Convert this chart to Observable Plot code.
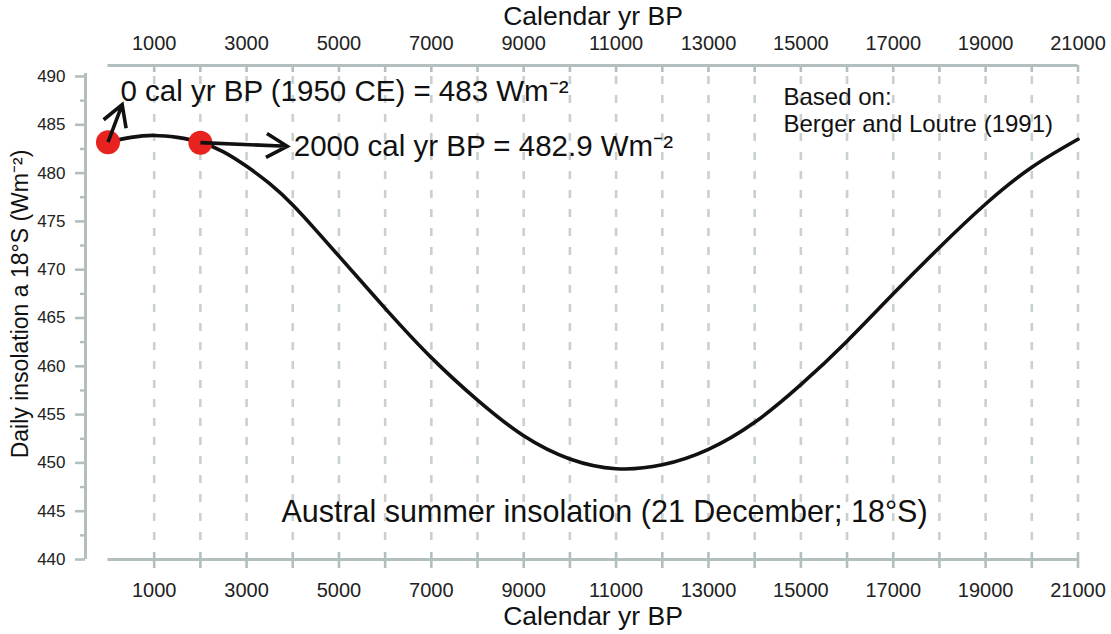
<!DOCTYPE html>
<html>
<head>
<meta charset="utf-8">
<script src="https://cdn.jsdelivr.net/npm/d3@7"></script>
<script src="https://cdn.jsdelivr.net/npm/@observablehq/plot@0.6"></script>
<style>
  html, body { margin: 0; padding: 0; background: #fff; }
  #chart svg { display: block; }
</style>
</head>
<body>
<div id="chart"></div>
<script>
// ---- data ----
const years = [0, 500, 1000, 1500, 2000, 2500, 3000, 3500, 4000, 4500, 5000, 6000, 7000, 8000, 9000, 10000,
  11000, 12000, 13000, 14000, 15000, 16000, 17000, 18000, 19000, 20000, 21000];
const insolation = [483.2, 483.7, 483.9, 483.7, 483.2, 482.2, 480.7, 478.9, 476.7, 474.1, 471.4, 466.0, 460.9, 456.5, 452.8, 450.4,
  449.4, 449.8, 451.4, 454.2, 458.1, 462.6, 467.5, 472.3, 476.8, 480.6, 483.5];

const pointYears = [0, 2000];
const pointValues = [483.2, 483.15];

const xTicks = [1000, 2000, 3000, 4000, 5000, 6000, 7000, 8000, 9000, 10000, 11000,
  12000, 13000, 14000, 15000, 16000, 17000, 18000, 19000, 20000, 21000];
const xTickLabels = [1000, 3000, 5000, 7000, 9000, 11000, 13000, 15000, 17000, 19000, 21000];
const yTicks = [440, 445, 450, 455, 460, 465, 470, 475, 480, 485, 490];
const yMinorTicks = [442.5, 447.5, 452.5, 457.5, 462.5, 467.5, 472.5, 477.5, 482.5, 487.5];

const xTitle = "Calendar yr BP";
const yTitle = "Daily insolation a 18°S (Wm⁻²)";
const note0 = "0 cal yr BP (1950 CE) = 483 Wm⁻²";
const note2000 = "2000 cal yr BP = 482.9 Wm⁻²";
const sourceNote = "Based on:\nBerger and Loutre (1991)";
const seasonNote = "Austral summer insolation (21 December; 18°S)";

// arrow targets (data units), one per highlighted point
const arrowTipYears = [307, 3880];
const arrowTipValues = [487.1, 482.78];

// ---- layout ----
const W = 1111, H = 634;
const mL = 107.5, mR = 33.5, mT = 76, mB = 75;
const xDomain = [0, 21000], yDomain = [440, 490];
const kx = (W - mL - mR) / (xDomain[1] - xDomain[0]);
const ky = (H - mT - mB) / (yDomain[1] - yDomain[0]);
const axisColor = "#b3bfbf";
const gridColor = "#c9d0d0";
const ink = "#111";

const series = years.map((yr, i) => ({yr, w: insolation[i]}));
const points = pointYears.map((yr, i) => ({yr, w: pointValues[i]}));

// build an arrow mark from a point to its tip; the start is extended backwards
// (and trimmed off again with insetStart) so that the head keeps its full size
function arrowMark(i) {
  const x1 = pointYears[i], y1 = pointValues[i];
  const x2 = arrowTipYears[i], y2 = arrowTipValues[i];
  const L = Math.hypot((x2 - x1) * kx, (y2 - y1) * ky);
  const f = Math.max(0, 75 - L) / L;
  return Plot.arrow([0], {
    x1: () => x1 - f * (x2 - x1), y1: () => y1 - f * (y2 - y1),
    x2: () => x2, y2: () => y2,
    insetStart: f * L,
    stroke: ink, strokeWidth: 3.6, headLength: 10, headAngle: 60,
    strokeLinejoin: "miter", strokeMiterlimit: 4, strokeLinecap: "butt"
  });
}

const plot = Plot.plot({
  width: W, height: H,
  marginLeft: mL, marginRight: mR, marginTop: mT, marginBottom: mB,
  x: {domain: xDomain, axis: null},
  y: {domain: yDomain, axis: null},
  style: {fontFamily: "'Liberation Sans', Arial, sans-serif", background: "#fff", color: ink},
  marks: [
    // dashed vertical grid
    Plot.ruleX(xTicks, {x: d => d, stroke: gridColor, strokeWidth: 2.6, strokeDasharray: "8,11", insetBottom: 8}),
    // top axis
    Plot.ruleY([yDomain[1]], {y: d => d, x1: () => xDomain[0], x2: () => xDomain[1], dy: -11, stroke: axisColor, strokeWidth: 3}),
    Plot.ruleX(xTicks, {x: d => d, stroke: axisColor, strokeWidth: 2.6, insetTop: -11, insetBottom: (H - mB) - 72}),
    Plot.text(xTickLabels, {x: d => d, text: d => String(d), frameAnchor: "top", lineAnchor: "middle", dy: -33, fontSize: 20, fill: "#222"}),
    Plot.text([xTitle], {text: d => d, frameAnchor: "top", lineAnchor: "middle", dy: -60, fontSize: 26.5, fill: ink}),
    // bottom axis
    Plot.ruleY([yDomain[0]], {y: d => d, x1: () => xDomain[0], x2: () => xDomain[1], stroke: axisColor, strokeWidth: 3}),
    Plot.ruleX(xTicks, {x: d => d, stroke: axisColor, strokeWidth: 2.6, insetTop: 552 - mT, insetBottom: -9}),
    Plot.text(xTickLabels, {x: d => d, text: d => String(d), frameAnchor: "bottom", lineAnchor: "middle", dy: 31, fontSize: 20, fill: "#222"}),
    Plot.text([xTitle], {text: d => d, frameAnchor: "bottom", lineAnchor: "middle", dy: 57.5, fontSize: 26.5, fill: ink}),
    // left axis
    Plot.ruleX([xDomain[0]], {x: d => d, dx: -22.5, insetTop: -3, stroke: axisColor, strokeWidth: 3}),
    Plot.ruleY(yTicks, {y: d => d, stroke: axisColor, strokeWidth: 2.6, insetLeft: 75 - mL, insetRight: (W - mR) - 85}),
    Plot.ruleY(yMinorTicks, {y: d => d, stroke: axisColor, strokeWidth: 2.4, insetLeft: 80 - mL, insetRight: (W - mR) - 85}),
    Plot.text(yTicks, {y: d => d, text: d => String(d), frameAnchor: "left", dx: 65 - mL, textAnchor: "end", lineAnchor: "middle", fontSize: 17, fill: "#222"}),
    Plot.text([yTitle], {text: d => d, frameAnchor: "left", textAnchor: "middle", lineAnchor: "middle", dx: 20 - mL, dy: -14, rotate: -90, fontSize: 23, fill: ink}),
    // insolation curve
    Plot.line(series, {x: "yr", y: "w", curve: "natural", stroke: ink, strokeWidth: 3.6}),
    // highlighted points
    Plot.dot(points, {x: "yr", y: "w", r: 12, fill: "#e8221e", stroke: "none"}),
    arrowMark(0),
    arrowMark(1),
    // annotations
    Plot.text([note0], {text: d => d, frameAnchor: "top-left", dx: 12.5, dy: 24.5, textAnchor: "start", lineAnchor: "bottom", fontSize: 29.5, fill: ink}),
    Plot.text([note2000], {text: d => d, frameAnchor: "top-left", dx: 185.8, dy: 79, textAnchor: "start", lineAnchor: "bottom", fontSize: 29.5, fill: ink}),
    Plot.text([sourceNote], {text: d => d, frameAnchor: "top-left", dx: 783 - mL, dy: 131.7 - mT, textAnchor: "start", lineAnchor: "bottom", lineHeight: 1.15, fontSize: 24, fill: ink}),
    Plot.text([seasonNote], {text: d => d, frameAnchor: "top-left", dx: 604 - mL, dy: 521.7 - mT, textAnchor: "middle", lineAnchor: "bottom", fontSize: 30.5, fill: ink})
  ]
});

document.getElementById("chart").appendChild(plot);
</script>
</body>
</html>
